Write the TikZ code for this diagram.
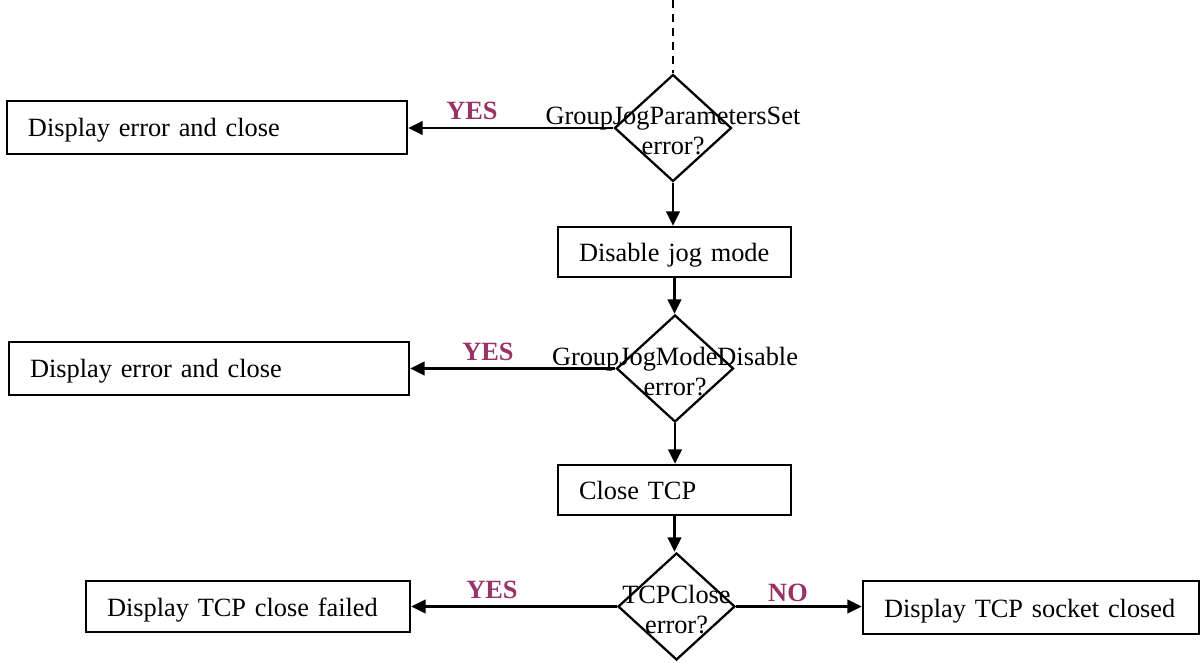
\documentclass[tikz,border=0pt]{standalone}
\usepackage{fontspec}
\setmainfont{Liberation Serif}
\usepackage{xcolor}
\usetikzlibrary{positioning,arrows.meta,shapes.geometric}
\definecolor{AnswerPurple}{HTML}{993366}
\definecolor{LineDark}{HTML}{000000}
\newcommand{\tightwords}{\spaceskip=2.9pt plus 1pt\relax}

\begin{document}
\begin{tikzpicture}[x=1cm,y=1cm,
    every node/.style={font=\fontsize{15}{17}\selectfont, text=LineDark},
    stepbox/.style={draw=LineDark, line width=1.3pt, rectangle, align=left,
        font=\fontsize{15}{17}\selectfont\tightwords,
        inner xsep=0.42cm, inner ysep=0pt, text height=0.45cm, text depth=0.07cm},
    decision/.style={draw=LineDark, line width=1.3pt, diamond, inner sep=0pt,
        minimum width=2.34cm, minimum height=2.14cm},
    answer/.style={font=\fontsize{15}{17}\selectfont\bfseries, text=AnswerPurple},
    flow/.style={line width=1.3pt, draw=LineDark,
        -{Triangle[length=0.29cm, width=0.27cm]}}]
            \useasboundingbox (0,0) rectangle (24.06,13.24);

            % main column
            \coordinate (start) at (13.46,13.24);
            \node[decision] (paramsq) at (13.46,10.68) {};
            \node[align=center] (paramsqtxt) at (13.46,10.62)
            {GroupJogParametersSet\\error?};

            \node[stepbox, text width=3.82cm, minimum height=1.0cm] (jogoff) at (13.49,8.20)
            {Disable jog mode};

            \node[decision] (modeq) at (13.50,5.87) {};
            \node[align=center] (modeqtxt) at (13.50,5.81)
            {GroupJogModeDisable\\error?};

            \node[stepbox, text width=3.82cm, minimum height=1.0cm] (tcpclose) at (13.49,3.44)
            {Close TCP};

            \node[decision] (closeq) at (13.53,1.11) {};
            \node[align=center] (closeqtxt) at (13.53,1.05)
            {TCPClose\\error?};

            % side boxes
            \node[stepbox, text width=7.16cm, minimum height=1.06cm] (errparams) at (4.14,10.69)
            {Display error and close};
            \node[stepbox, text width=7.16cm, minimum height=1.06cm] (errmode) at (4.18,5.87)
            {Display error and close};
            \node[stepbox, text width=5.64cm, minimum height=1.02cm] (closefail) at (4.96,1.11)
            {Display TCP close failed};
            \node[stepbox, text width=5.88cm, minimum height=1.06cm] (closeok) at (20.62,1.09)
            {Display TCP socket closed};

            % connectors
            \draw[line width=1.3pt, dash pattern=on 0.16cm off 0.12cm] (start) -- (paramsq.north);
            \draw[flow] (paramsq.south) -- (paramsq.south |- jogoff.north);
            \draw[flow] (jogoff.south) -- (jogoff.south |- modeq.north);
            \draw[flow] (modeq.south) -- (modeq.south |- tcpclose.north);
            \draw[flow] (tcpclose.south) -- (tcpclose.south |- closeq.north);

            \draw[flow] (paramsq.west) -- (paramsq.west -| errparams.east);
            \draw[flow] (modeq.west) -- (modeq.west -| errmode.east);
            \draw[flow] (closeq.west) -- (closeq.west -| closefail.east);
            \draw[flow] (closeq.east) -- (closeq.east -| closeok.west);

            \node[answer] (yesparams) at (9.44,11.02) {YES};
            \node[answer] (yesmode) at (9.76,6.20) {YES};
            \node[answer] (yesclose) at (9.84,1.44) {YES};
            \node[answer] (noclose) at (15.76,1.38) {NO};
          \end{tikzpicture}
\end{document}
